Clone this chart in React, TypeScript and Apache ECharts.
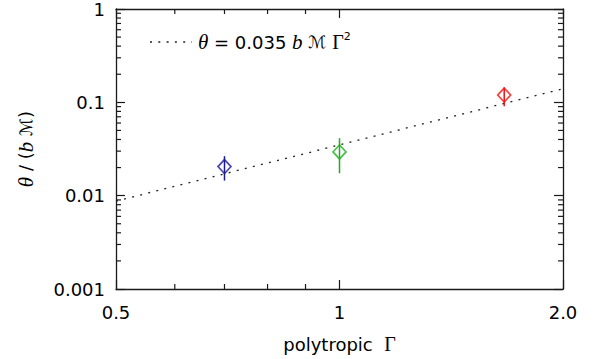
import React, { useEffect, useRef } from "react";
import * as echarts from "echarts";

// Data
const gammaValues = [0.7, 1.0, 5 / 3];
const thetaValues = [0.0205, 0.0294, 0.1196];
const errLow = [0.0145, 0.0174, 0.091];
const errHigh = [0.0265, 0.0413, 0.144];
const pointColors = ["#1a1a96", "#1fae1f", "#f01414"];

// fit line theta = 0.035 Gamma^2, endpoints at the axis extents
const fitX = [0.5, 2.0];
const fitY = [0.00875, 0.14];

const xRange = [0.5, 2.0];
const yRange = [0.001, 1];
const xTickLabels = ["0.5", "1", "2.0"];
const yTickLabels = ["0.001", "0.01", "0.1", "1"];
const xMinor = [0.6, 0.7, 0.8, 0.9];
const yMinor = [
  0.002, 0.003, 0.004, 0.005, 0.006, 0.007, 0.008, 0.009,
  0.02, 0.03, 0.04, 0.05, 0.06, 0.07, 0.08, 0.09,
  0.2, 0.3, 0.4, 0.5, 0.6, 0.7, 0.8, 0.9,
];

const FONT = "DejaVu Sans";
const AXIS_COLOR = "#1a1a1a";

export default function App() {
  const ref = useRef<HTMLDivElement>(null);

  useEffect(() => {
    if (!ref.current) return;
    const chart = echarts.init(ref.current, null, { renderer: "svg" });

    const richMath = {
      it: { fontFamily: "Liberation Serif", fontStyle: "italic", fontSize: 21, color: "#000" },
      sc: { fontFamily: "DejaVu Sans", fontStyle: "italic", fontSize: 17, color: "#000" },
      g: { fontFamily: "Liberation Serif", fontSize: 20, color: "#000" },
      sup: { fontFamily: FONT, fontSize: 11, color: "#000", padding: [0, 0, 11, 0] },
    };

    const baseAxisX = {
      type: "log" as const,
      logBase: 2,
      min: xRange[0],
      max: xRange[1],
      splitLine: { show: false },
      axisLine: { show: true, lineStyle: { color: AXIS_COLOR, width: 1.3 } },
      axisTick: { show: true, inside: true, length: 9, lineStyle: { color: AXIS_COLOR, width: 1.2 } },
    };
    const baseAxisY = {
      type: "log" as const,
      logBase: 10,
      min: yRange[0],
      max: yRange[1],
      splitLine: { show: false },
      axisLine: { show: true, lineStyle: { color: AXIS_COLOR, width: 1.3 } },
      axisTick: { show: true, inside: true, length: 9, lineStyle: { color: AXIS_COLOR, width: 1.2 } },
    };

    const tickStyle = { stroke: AXIS_COLOR, lineWidth: 1.2 };
    const minorLen = 5;

    chart.setOption({
      animation: false,
      backgroundColor: "#fff",
      grid: { left: 116, right: 37, top: 8, bottom: 65, containLabel: false },
      xAxis: [
        {
          ...baseAxisX,
          position: "bottom",
          name: "polytropic  {g|Γ}",
          nameLocation: "middle",
          nameGap: 45,
          nameTextStyle: { fontFamily: FONT, fontSize: 18, color: "#000", rich: richMath },
          axisLabel: {
            show: true,
            margin: 14,
            fontFamily: FONT,
            fontSize: 18,
            color: "#000",
            formatter: (v: number) => xTickLabels[Math.round(Math.log2(v)) + 1] ?? "",
          },
        },
        { ...baseAxisX, position: "top", axisLabel: { show: false } },
      ],
      yAxis: [
        {
          ...baseAxisY,
          position: "left",
          name: "{it|θ} / ({it|b} {sc|ℳ})",
          nameLocation: "middle",
          nameGap: 80,
          nameTextStyle: { fontFamily: FONT, fontSize: 18, color: "#000", rich: richMath },
          axisLabel: {
            show: true,
            margin: 11,
            fontFamily: FONT,
            fontSize: 18,
            color: "#000",
            formatter: (v: number) => yTickLabels[Math.round(Math.log10(v)) + 3] ?? "",
          },
        },
        { ...baseAxisY, position: "right", axisLabel: { show: false } },
      ],
      graphic: [
        {
          type: "line",
          shape: { x1: 150, y1: 42, x2: 192, y2: 42 },
          style: { stroke: "#222", lineWidth: 1.3, lineDash: [2, 6.3] },
        },
        {
          type: "text",
          x: 198,
          y: 42,
          style: {
            text: "{it|θ} = 0.035 {it|b} {sc|ℳ} {g|Γ}{sup|2}",
            fontFamily: FONT,
            fontSize: 18,
            fill: "#000",
            verticalAlign: "middle",
            rich: richMath,
          },
        },
      ],
      series: [
        {
          type: "line",
          data: fitX.map((x, i) => [x, fitY[i]]),
          showSymbol: false,
          symbol: "none",
          silent: true,
          lineStyle: { color: "#222", width: 1.3, type: [2, 6.3] },
          z: 2,
        },
        {
          type: "custom",
          silent: true,
          z: 3,
          data: gammaValues.map((g, i) => [g, errLow[i], errHigh[i], i]),
          renderItem: (params: any, api: any) => {
            const x = api.value(0);
            const p1 = api.coord([x, api.value(1)]);
            const p2 = api.coord([x, api.value(2)]);
            const c = pointColors[api.value(3)];
            return {
              type: "line",
              shape: { x1: p1[0], y1: p1[1], x2: p2[0], y2: p2[1] },
              style: { stroke: c, lineWidth: 1.5 },
            };
          },
        },
        {
          type: "scatter",
          z: 4,
          silent: true,
          symbol: "diamond",
          symbolSize: [13, 14],
          data: gammaValues.map((g, i) => ({
            value: [g, thetaValues[i]],
            itemStyle: { color: "rgba(0,0,0,0)", borderColor: pointColors[i], borderWidth: 1.7 },
          })),
        },
        {
          type: "custom",
          silent: true,
          clip: false,
          z: 5,
          data: xMinor.map((v) => [v, yRange[0]]),
          renderItem: (params: any, api: any) => {
            const v = api.value(0);
            const b = api.coord([v, yRange[0]]);
            const t = api.coord([v, yRange[1]]);
            return {
              type: "group",
              children: [
                { type: "line", shape: { x1: b[0], y1: b[1], x2: b[0], y2: b[1] - minorLen }, style: tickStyle },
                { type: "line", shape: { x1: t[0], y1: t[1], x2: t[0], y2: t[1] + minorLen }, style: tickStyle },
              ],
            };
          },
        },
        {
          type: "custom",
          silent: true,
          clip: false,
          z: 5,
          data: yMinor.map((v) => [xRange[0], v]),
          renderItem: (params: any, api: any) => {
            const v = api.value(1);
            const l = api.coord([xRange[0], v]);
            const r = api.coord([xRange[1], v]);
            return {
              type: "group",
              children: [
                { type: "line", shape: { x1: l[0], y1: l[1], x2: l[0] + minorLen, y2: l[1] }, style: tickStyle },
                { type: "line", shape: { x1: r[0], y1: r[1], x2: r[0] - minorLen, y2: r[1] }, style: tickStyle },
              ],
            };
          },
        },
      ],
    });

    return () => chart.dispose();
  }, []);

  return (
    <div
      ref={ref}
      style={{ position: "fixed", left: 0, top: 0, width: 600, height: 359, background: "#fff" }}
    />
  );
}
